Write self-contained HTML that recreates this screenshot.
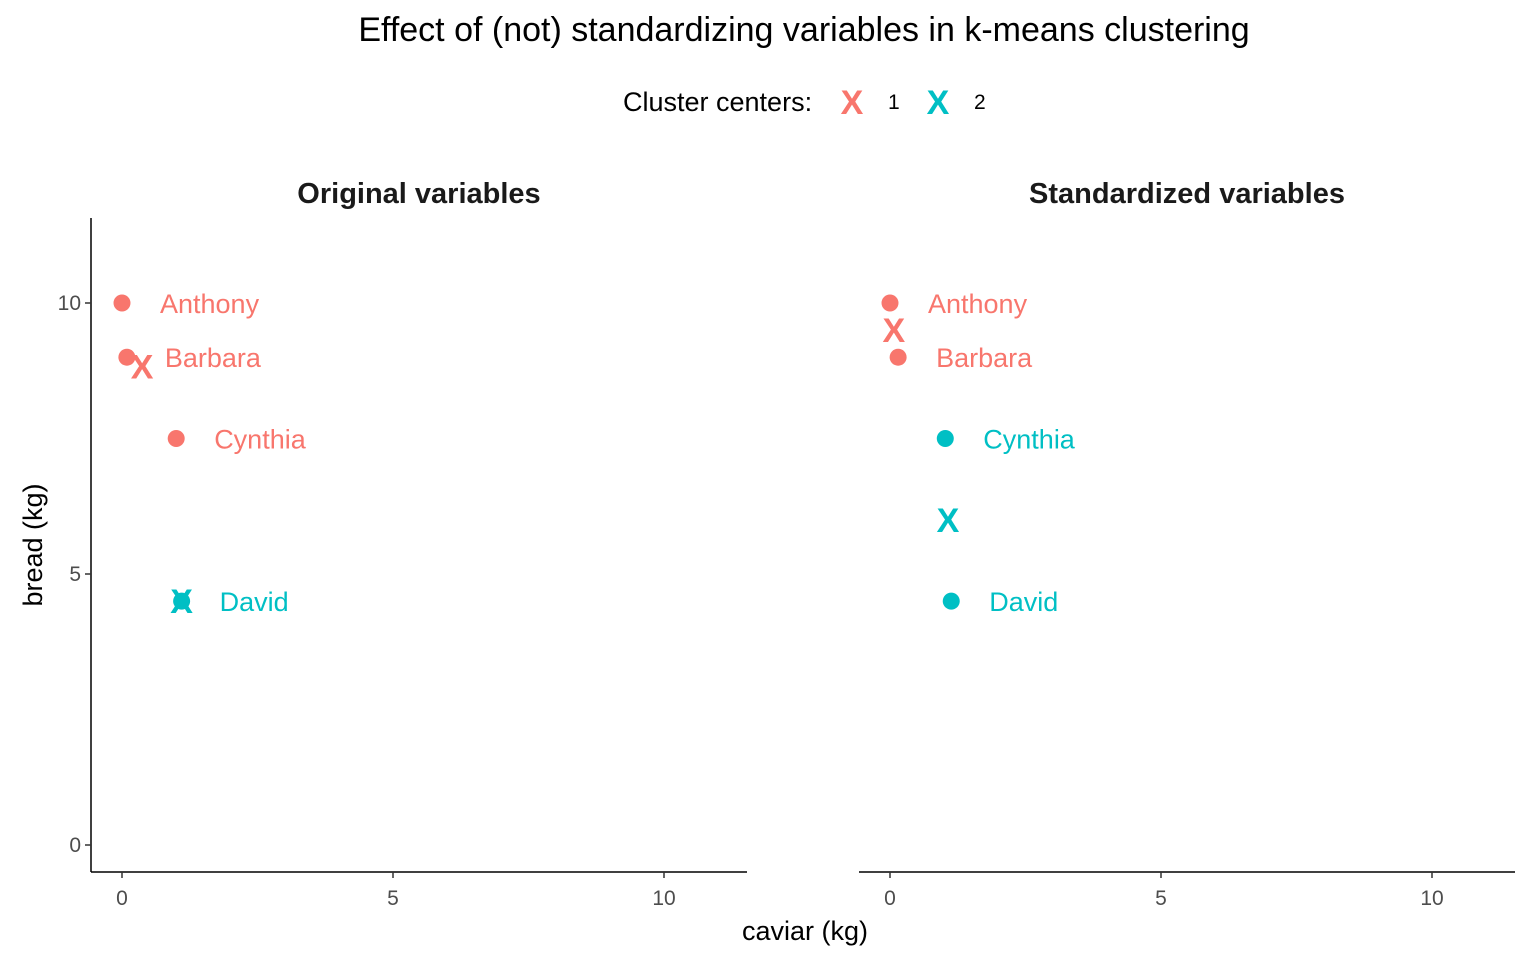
<!DOCTYPE html>
<html><head><meta charset="utf-8"><style>
body{margin:0;background:#fff;}
svg text{font-family:"Liberation Sans",Arial,sans-serif;}
</style></head><body>
<svg id="chart" width="1536" height="960" xmlns="http://www.w3.org/2000/svg">
<text x="804" y="41" font-size="34" text-anchor="middle" fill="#000">Effect of (not) standardizing variables in k-means clustering</text>
<g>
<text x="623" y="111" font-size="27" fill="#000">Cluster centers:</text>
<text x="852" y="114" font-size="34" font-weight="bold" text-anchor="middle" fill="#F8766D">X</text>
<text x="888" y="109" font-size="21" fill="#000">1</text>
<text x="938" y="114" font-size="34" font-weight="bold" text-anchor="middle" fill="#00BFC4">X</text>
<text x="974" y="109" font-size="21" fill="#000">2</text>
</g>
<text x="805" y="940" font-size="27" text-anchor="middle" fill="#000">caviar (kg)</text>
<text transform="translate(42,545) rotate(-90)" font-size="27" text-anchor="middle" fill="#000">bread (kg)</text>
</svg>
<script>
const names = ["Anthony","Barbara","Cynthia","David"];
const caviarOrig = [0, 0.09, 1.0, 1.1];
const breadOrig = [10, 9, 7.5, 4.5];
const clusterOrig = [1, 1, 1, 2];
const centerXOrig = [0.37, 1.1];
const centerYOrig = [8.83, 4.5];
const caviarStd = [0, 0.15, 1.02, 1.13];
const breadStd = [10, 9, 7.5, 4.5];
const clusterStd = [1, 1, 2, 2];
const centerXStd = [0.07, 1.07];
const centerYStd = [9.5, 6.0];
const xTicks = [0, 5, 10];
const yTicks = [0, 5, 10];
const panelTitles = ["Original variables","Standardized variables"];

const svg = document.getElementById('chart');
const NS = "http://www.w3.org/2000/svg";
const colors = {1:"#F8766D",2:"#00BFC4"};
function mk(tag, attrs){const e=document.createElementNS(NS,tag);for(const k in attrs)e.setAttribute(k,attrs[k]);svg.appendChild(e);return e;}
const ys = v => 845 - v*54.2;

function panel(pi, x0, xs, ys_, cl, cx, cy){
  const xsF = v => x0 + v*54.2;
  const left = x0 - 31, right = x0 + 625;
  const t = mk('text',{x:(left+right)/2,y:203,'font-size':29,'font-weight':'bold','text-anchor':'middle',fill:'#1a1a1a'});
  t.textContent = panelTitles[pi];
  
  
  const xl = mk('line',{x1:left,x2:right,y1:872,y2:872,stroke:'#000','stroke-width':1.5});
  
  
  xTicks.forEach(v=>{
    const tk = mk('line',{x1:xsF(v),x2:xsF(v),y1:872,y2:878,stroke:'#333','stroke-width':1.5});
    
    
    const tl = mk('text',{x:xsF(v),y:905,'font-size':21,'text-anchor':'middle',fill:'#4d4d4d'});
    tl.textContent = v;
    
    
  });
  if(pi===0){
    const yl = mk('line',{x1:left,x2:left,y1:218,y2:872,stroke:'#000','stroke-width':1.5});
    
    
    yTicks.forEach(v=>{
      const tk = mk('line',{x1:left-6,x2:left,y1:ys(v),y2:ys(v),stroke:'#333','stroke-width':1.5});
      
      
      const tl = mk('text',{x:left-10,y:ys(v)+7,'font-size':21,'text-anchor':'end',fill:'#4d4d4d'});
      tl.textContent = v;
      
      
    });
  }
  names.forEach((n,i)=>{
    const c = mk('circle',{cx:xsF(xs[i]),cy:ys(ys_[i]),r:8.5,fill:colors[cl[i]]});
    
    
    const l = mk('text',{x:xsF(xs[i])+38,y:ys(ys_[i])+10,'font-size':27,fill:colors[cl[i]]});
    l.textContent = n;
    
    
  });
  cx.forEach((v,k)=>{
    const m = mk('text',{x:xsF(v),y:ys(cy[k])+12,'font-size':34,'font-weight':'bold','text-anchor':'middle',fill:colors[k+1]});
    m.textContent = 'X';
    
    
  });
}
panel(0,122,caviarOrig,breadOrig,clusterOrig,centerXOrig,centerYOrig);
panel(1,890,caviarStd,breadStd,clusterStd,centerXStd,centerYStd);
</script>
</body></html>
